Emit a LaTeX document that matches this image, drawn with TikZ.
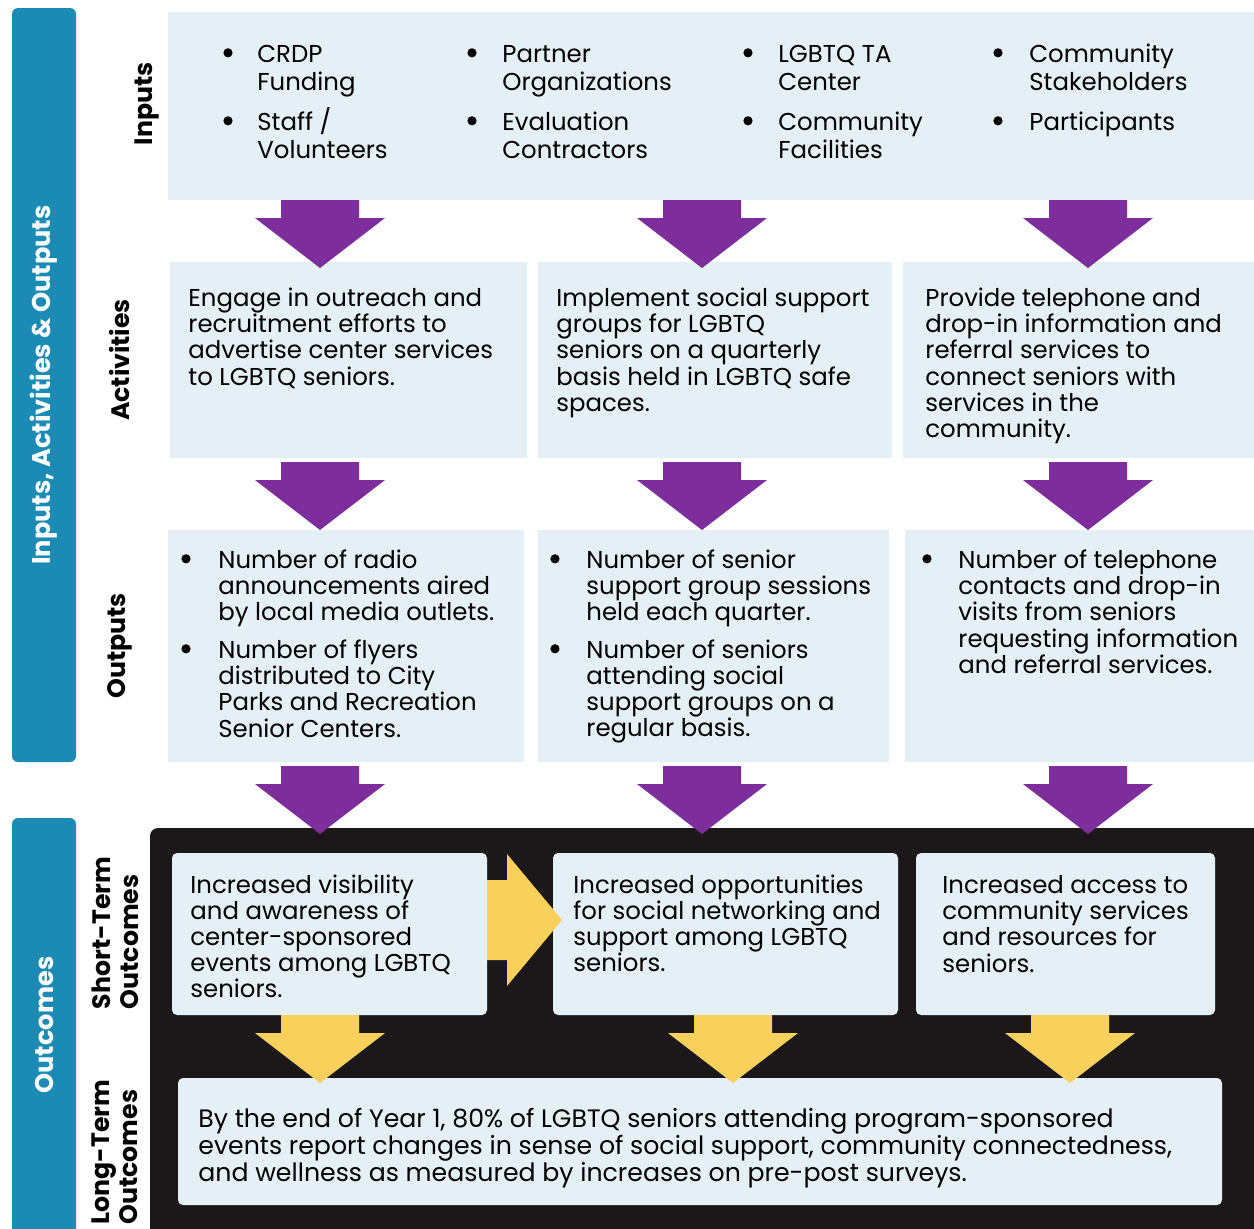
\documentclass[tikz,border=0pt]{standalone}
\usepackage{fontspec}
\setmainfont{Poppins}
\usetikzlibrary{positioning, calc, fit}

\definecolor{barblue}{RGB}{27,139,181}
\definecolor{boxblue}{RGB}{228,240,245}
\definecolor{arrpurple}{RGB}{126,46,156}
\definecolor{arryellow}{RGB}{250,208,92}
\definecolor{outblack}{RGB}{28,24,25}

\newcommand{\txtfont}{\fontsize{12.2}{13}\selectfont}
\newcommand{\inpfont}{\fontsize{12.2}{14}\selectfont}
\newcommand{\ltfont}{\fontsize{12.6}{13}\selectfont}
\newcommand{\rowlabfont}{\fontsize{12.6}{14}\selectfont\bfseries}
\newcommand{\sidefont}{\fontsize{12.8}{14}\selectfont\bfseries}
% first line of a stack sits on the node's base
\newcommand{\stk}[1]{\begin{tabular}[t]{@{}l@{}}#1\end{tabular}}

\tikzset{
    fatdown/.pic={\path[pic actions] (-39,0) -- (39,0) -- (39,18) -- (65,18) -- (0,68) -- (-65,18) -- (-39,18) -- cycle;},
    fatright/.pic={\path[pic actions] (0,-40) -- (20,-40) -- (20,-66) -- (75,0) -- (20,66) -- (20,40) -- (0,40) -- cycle;}
}

\begin{document}
\begin{tikzpicture}[x=0.5pt, y=-0.5pt,
    box/.style={fill=boxblue, inner sep=0pt},
    stbox/.style={box, rounded corners=2.5pt},
    txt/.style={font=\txtfont, anchor=base west, inner sep=0pt},
    inp/.style={txt, font=\inpfont},
    bul/.style={circle, fill=black, inner sep=0pt, minimum size=4.6pt, yshift=4.6pt},
    rowlab/.style={font=\rowlabfont, rotate=90, align=left, inner sep=0pt},
    sidelab/.style={font=\sidefont, text=white, rotate=90, inner sep=0pt}]
    \useasboundingbox (0,0) rectangle (1254,1228);
    \fill[white] (0,0) rectangle (1254,1228);
    \clip (0,0) rectangle (1254,1228);

    % side bars
    \fill[barblue, rounded corners=3pt] (12,8) rectangle (76,762);
    \fill[barblue, rounded corners=3pt] (12,1240) -- (12,818) -- (76,818) -- (76,1240);
    \node[sidelab] (side1) at (44,385) {Inputs, Activities \& Outputs};
    \node[sidelab] (side2) at (44,1025) {Outcomes};

    % row labels
    \node[rowlab] (lab-in) at (147,104) {Inputs};
    \node[rowlab] (lab-act) at (120,360) {Activities};
    \node[rowlab] (lab-out) at (120,646) {Outputs};
    \node[rowlab] (lab-st) at (115,933) {Short-Term\\Outcomes};
    \node[rowlab] (lab-lt) at (115,1152) {Long-Term\\Outcomes};

    % boxes
    \node[box, fit={(168,12) (1254,200)}] (inp) {};
    \node[box, fit={(170,262) (527,458)}] (act1) {};
    \node[box, fit={(538,262) (892,458)}] (act2) {};
    \node[box, fit={(903,262) (1254,458)}] (act3) {};
    \node[box, fit={(168,530) (524,762)}] (out1) {};
    \node[box, fit={(538,530) (889,762)}] (out2) {};
    \node[box, fit={(905,530) (1254,762)}] (out3) {};

    % outcomes background
    \fill[outblack, rounded corners=4pt] (1270,828) -- (150,828) -- (150,1240) -- (1270,1240);
    \node[stbox, fit={(172,853) (487,1015)}] (st1) {};
    \node[stbox, fit={(553,853) (898,1015)}] (st2) {};
    \node[stbox, fit={(916,853) (1215,1015)}] (st3) {};
    \node[stbox, fit={(178,1078) (1222,1205)}] (lt) {};

    % inputs
    \foreach \bx/\tx/\one/\two in {228/257/{CRDP\\Funding}/{Staff /\\Volunteers},
                                   472/502/{Partner\\Organizations}/{Evaluation\\Contractors},
                                   748/778/{LGBTQ TA\\Center}/{Community\\Facilities},
                                   998/1029/{Community\\Stakeholders}/{Participants}} {
        \node[bul] at (\bx,62) {};
        \node[inp] at (\tx,62) {\stk{\one}};
        \node[bul] at (\bx,130) {};
        \node[inp] at (\tx,130) {\stk{\two}};
    }

    % activities
    \node[txt] (act1-t) at (188,306) {\stk{Engage in outreach and\\recruitment efforts to\\advertise center services\\to LGBTQ seniors.}};
    \node[txt] (act2-t) at (556,306) {\stk{Implement social support\\groups for LGBTQ\\seniors on a quarterly\\basis held in LGBTQ safe\\spaces.}};
    \node[txt] (act3-t) at (925,306) {\stk{Provide telephone and\\drop-in information and\\referral services to\\connect seniors with\\services in the\\community.}};

    % outputs
    \node[bul] at (186,568) {};
    \node[txt] (out1-a) at (218,568) {\stk{Number of radio\\announcements aired\\by local media outlets.}};
    \node[bul] at (186,658) {};
    \node[txt] (out1-b) at (218,658) {\stk{Number of flyers\\distributed to City\\Parks and Recreation\\Senior Centers.}};
    \node[bul] at (555,568) {};
    \node[txt] (out2-a) at (586,568) {\stk{Number of senior\\support group sessions\\held each quarter.}};
    \node[bul] at (555,658) {};
    \node[txt] (out2-b) at (586,658) {\stk{Number of seniors\\attending social\\support groups on a\\regular basis.}};
    \node[bul] at (927,568) {};
    \node[txt] (out3-a) at (958,568) {\stk{Number of telephone\\contacts and drop-in\\visits from seniors\\requesting information\\and referral services.}};

    % outcomes
    \node[txt] (st1-t) at (190,893) {\stk{Increased visibility\\and awareness of\\center-sponsored\\events among LGBTQ\\seniors.}};
    \node[txt] (st2-t) at (573,893) {\stk{Increased opportunities\\for social networking and\\support among LGBTQ\\seniors.}};
    \node[txt] (st3-t) at (942,893) {\stk{Increased access to\\community services\\and resources for\\seniors.}};
    \node[txt, font=\ltfont] (lt-t) at (198,1127) {\stk{By the end of Year 1, 80\% of LGBTQ seniors attending program-sponsored\\events report changes in sense of social support, community connectedness,\\and wellness as measured by increases on pre-post surveys.}};

    % purple arrows
    \foreach \ax in {320,702,1088} {
        \pic[fill=arrpurple] at (\ax,200) {fatdown};
        \pic[fill=arrpurple] at (\ax,462) {fatdown};
        \pic[fill=arrpurple] at (\ax,766) {fatdown};
    }

    % yellow arrows
    \pic[fill=arryellow] at (487,920) {fatright};
    \foreach \ax in {320,733,1070}
        \pic[fill=arryellow] at (\ax,1015) {fatdown};
\end{tikzpicture}
\end{document}
